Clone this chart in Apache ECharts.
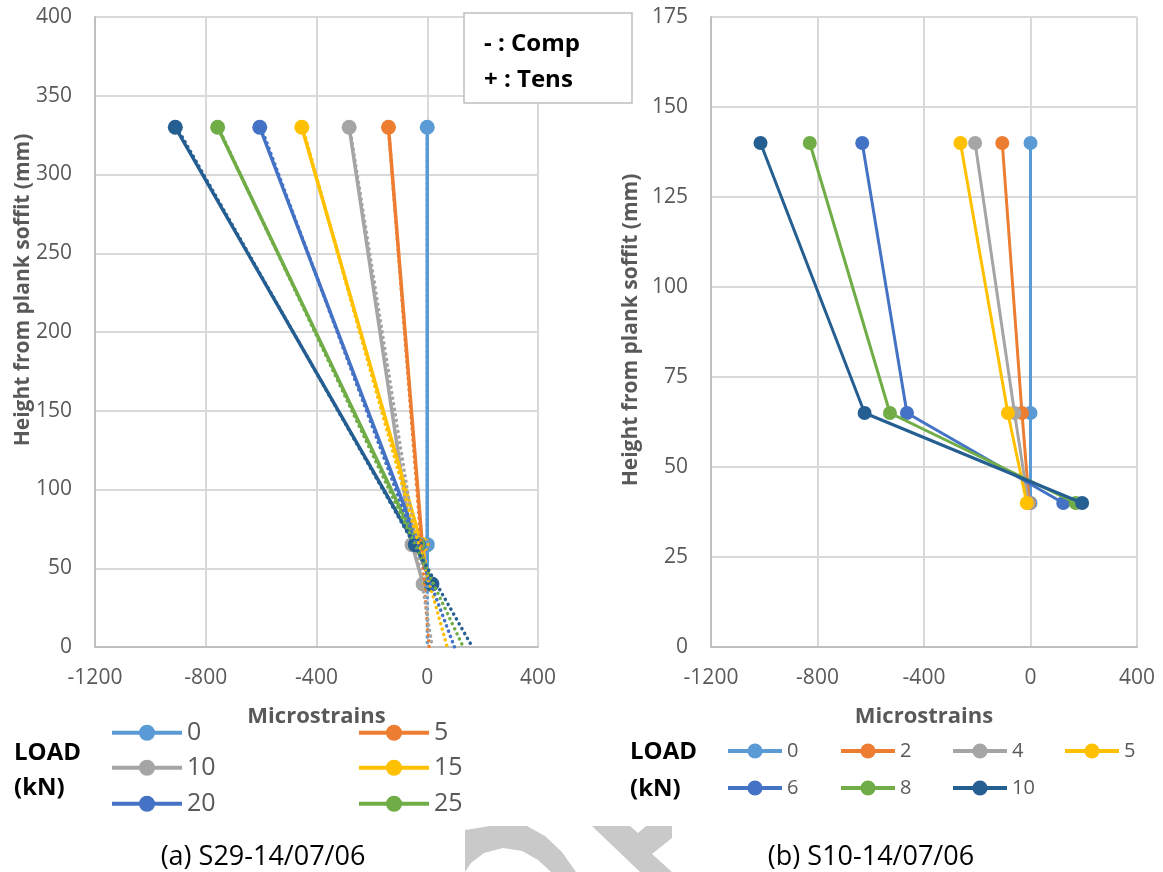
<!DOCTYPE html>
<html>
<head>
<meta charset="utf-8">
<script src="https://cdn.jsdelivr.net/npm/echarts@6/dist/echarts.min.js"></script>
<style>
html,body{margin:0;padding:0;background:#fff;}
#chart{width:1163px;height:872px;}
</style>
</head>
<body>
<div id="chart"></div>
<script>
// ---------- DATA ----------
// (a) S29-14/07/06
const leftLoads = ['0', '5', '10', '15', '20', '25', '30'];
const leftHeights = [330, 65, 40];
const leftStrain0 = [0, 0, 0];
const leftStrain5 = [-140, -18, 5];
const leftStrain10 = [-282, -55, -15];
const leftStrain15 = [-453, -20, 8];
const leftStrain20 = [-605, -30, 12];
const leftStrain25 = [-757, -35, 15];
const leftStrain30 = [-910, -43, 17];
// dotted linear trend lines: strain at top (330 mm) and at soffit (0 mm)
const leftTrendHeights = [330, 0];
const leftTrendTop = [0, -140, -280, -450, -600, -755, -905];
const leftTrendBottom = [0, 7, 18, 72, 98, 130, 163];
const leftLegendLoads = ['0', '5', '10', '15', '20', '25'];

// (b) S10-14/07/06
const rightLoads = ['0', '2', '4', '5', '6', '8', '10'];
const rightHeights = [140, 65, 40];
const rightStrain0 = [0, 0, 0];
const rightStrain2 = [-106, -32, -5];
const rightStrain4 = [-208, -60, -8];
const rightStrain5 = [-263, -85, -14];
const rightStrain6 = [-632, -464, 123];
const rightStrain8 = [-829, -528, 170];
const rightStrain10 = [-1014, -623, 194];

const xTicks = [-1200, -800, -400, 0, 400];
const leftYTicks = [0, 50, 100, 150, 200, 250, 300, 350, 400];
const rightYTicks = [0, 25, 50, 75, 100, 125, 150, 175];

// ---------- STYLE ----------
const colors = ['#5B9BD5', '#ED7D31', '#A5A5A5', '#FFC000', '#4472C4', '#70AD47', '#255E91'];
const FONT = '"Open Sans", sans-serif';
const leftStrains = [leftStrain0, leftStrain5, leftStrain10, leftStrain15, leftStrain20, leftStrain25, leftStrain30];
const rightStrains = [rightStrain0, rightStrain2, rightStrain4, rightStrain5, rightStrain6, rightStrain8, rightStrain10];

const chart = echarts.init(document.getElementById('chart'), null, {renderer: 'canvas'});

function pairs(xs, ys) { return xs.map((x, i) => [x, ys[i]]); }

const series = [];
leftLoads.forEach((ld, i) => {
  series.push({
    name: 'L' + ld, type: 'line', xAxisIndex: 0, yAxisIndex: 0,
    data: pairs(leftStrains[i], leftHeights),
    symbol: 'circle', symbolSize: 15,
    lineStyle: {color: colors[i], width: 3.5},
    itemStyle: {color: colors[i]},
    z: 2 + i, animation: false
  });
});
leftLoads.forEach((ld, i) => {
  series.push({
    name: 'T' + ld, type: 'line', xAxisIndex: 0, yAxisIndex: 0,
    data: pairs([leftTrendTop[i], leftTrendBottom[i]], leftTrendHeights),
    symbol: 'none',
    lineStyle: {color: colors[i], width: 3.5, type: [0.1, 5.5], cap: 'round'},
    z: 10, animation: false, silent: true
  });
});
rightLoads.forEach((ld, i) => {
  series.push({
    name: 'R' + ld, type: 'line', xAxisIndex: 1, yAxisIndex: 1,
    data: pairs(rightStrains[i], rightHeights),
    symbol: 'circle', symbolSize: 14,
    lineStyle: {color: colors[i], width: 3},
    itemStyle: {color: colors[i]},
    z: 2 + i, animation: false
  });
});

const axisLabelStyle = {color: '#595959', fontSize: 21, fontFamily: FONT};
function xAxisCfg(gi) {
  return {
    type: 'value', gridIndex: gi, min: -1200, max: 400, interval: 400,
    axisLine: {show: true, onZero: false, lineStyle: {color: '#bfbfbf', width: 2}},
    axisTick: {show: false},
    splitLine: {show: true, lineStyle: {color: '#d9d9d9', width: 2}},
    axisLabel: Object.assign({margin: 21, formatter: v => xTicks.includes(v) ? String(v) : ''}, axisLabelStyle),
    name: 'Microstrains', nameLocation: 'middle', nameGap: 59,
    nameTextStyle: {color: '#595959', fontSize: 22, fontWeight: 'bold', fontFamily: FONT}
  };
}
function yAxisCfg(gi, max, interval, ticks) {
  return {
    type: 'value', gridIndex: gi, min: 0, max: max, interval: interval,
    axisLine: {show: true, onZero: false, lineStyle: {color: '#bfbfbf', width: 2}},
    axisTick: {show: false},
    splitLine: {show: true, lineStyle: {color: '#d9d9d9', width: 2}},
    axisLabel: Object.assign({margin: 23, formatter: v => ticks.includes(v) ? String(v) : ''}, axisLabelStyle)
  };
}

function legendItem(name, left, cy, fontSize, w, h, lw) {
  return {
    data: [name], left: left, top: cy - Math.max(h, fontSize * 1.1) / 2, padding: 0,
    itemWidth: w, itemHeight: h, itemGap: 0, selectedMode: false,
    lineStyle: {width: lw},
    formatter: n => n.slice(1),
    textStyle: {color: '#595959', fontSize: fontSize, fontFamily: FONT, padding: [0, 0, 0, 0]}
  };
}
const legends = [];
// left legend: 2 columns x 3 rows
const leftCols = [110, 357];
const leftRows = [734, 769, 805];
leftLegendLoads.forEach((ld, i) => {
  legends.push(legendItem('L' + ld, leftCols[i % 2], leftRows[Math.floor(i / 2)], 25, 70, 20, 4));
});
// right legend: 4 columns x 2 rows
const rightCols = [726, 839, 951, 1063];
const rightRows = [752, 789];
rightLoads.forEach((ld, i) => {
  legends.push(legendItem('R' + ld, rightCols[i % 4], rightRows[Math.floor(i / 4)], 20, 54, 19, 4));
});

const boldBlack = {fill: '#000', fontSize: 24, fontWeight: 'bold', fontFamily: FONT};
const yTitle = {text: 'Height from plank soffit (mm)', fill: '#595959', fontSize: 21, fontWeight: 'bold', fontFamily: FONT, align: 'center', verticalAlign: 'middle'};
const graphic = [
  // y axis titles
  {type: 'text', x: 23, y: 290, rotation: Math.PI / 2, style: Object.assign({}, yTitle)},
  {type: 'text', x: 631, y: 330, rotation: Math.PI / 2, style: Object.assign({}, yTitle)},
  // Comp / Tens box
  {type: 'rect', shape: {x: 464, y: 13, width: 168, height: 90},
   style: {fill: '#fff', stroke: '#bfbfbf', lineWidth: 1.5}, z: 50},
  {type: 'text', x: 484, y: 44, z: 51, style: Object.assign({text: '- : Comp', verticalAlign: 'middle'}, boldBlack)},
  {type: 'text', x: 484, y: 80, z: 51, style: Object.assign({text: '+ : Tens', verticalAlign: 'middle'}, boldBlack)},
  // LOAD (kN) labels
  {type: 'text', x: 14, y: 753, style: Object.assign({text: 'LOAD', verticalAlign: 'middle'}, boldBlack)},
  {type: 'text', x: 14, y: 788, style: Object.assign({text: '(kN)', verticalAlign: 'middle'}, boldBlack)},
  {type: 'text', x: 630, y: 752, style: Object.assign({text: 'LOAD', verticalAlign: 'middle'}, boldBlack)},
  {type: 'text', x: 630, y: 789, style: Object.assign({text: '(kN)', verticalAlign: 'middle'}, boldBlack)},
  // captions
  {type: 'text', x: 263, y: 857, style: {text: '(a) S29-14/07/06', fill: '#000', fontSize: 27, fontFamily: FONT, align: 'center', verticalAlign: 'middle'}},
  {type: 'text', x: 871, y: 857, style: {text: '(b) S10-14/07/06', fill: '#000', fontSize: 27, fontFamily: FONT, align: 'center', verticalAlign: 'middle'}},
  // watermark fragments
  {type: 'polygon', z: -1, shape: {points: [[465, 872], [465, 830], [490, 826], [527, 826], [545, 836], [562, 852], [576, 872], [551, 872], [538, 860], [522, 851], [503, 848], [484, 853], [471, 863]]},
   style: {fill: '#c9c9c9'}},
  {type: 'polygon', z: -1, shape: {points: [[592, 826], [630, 826], [638, 833], [646, 826], [672, 826], [672, 838], [652, 854], [672, 872], [640, 872]]},
   style: {fill: '#c9c9c9'}}
];

chart.setOption({
  animation: false,
  textStyle: {fontFamily: FONT},
  grid: [
    {left: 95, top: 17, width: 443, height: 630, containLabel: false},
    {left: 711, top: 17, width: 426, height: 630, containLabel: false}
  ],
  xAxis: [xAxisCfg(0), xAxisCfg(1)],
  yAxis: [yAxisCfg(0, 400, 50, leftYTicks), yAxisCfg(1, 175, 25, rightYTicks)],
  legend: legends,
  graphic: graphic,
  series: series
});
</script>
</body>
</html>
